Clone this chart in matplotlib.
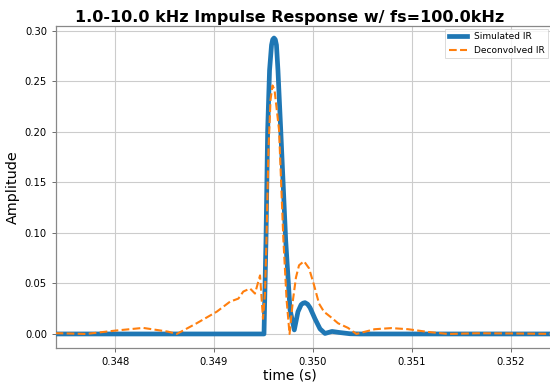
import matplotlib
matplotlib.use("Agg")
import matplotlib.pyplot as plt

# Simulated impulse response (time in s, amplitude)
sim_t = [0.34740, 0.349505, 0.349525, 0.349542, 0.349561, 0.349581, 0.349593,
         0.349606, 0.349619, 0.349631, 0.349646, 0.349674, 0.349724, 0.349768,
         0.349811, 0.349848, 0.349880, 0.349900, 0.349919, 0.349945, 0.349970,
         0.350020, 0.350071, 0.350121, 0.350192, 0.350263, 0.350374, 0.350475,
         0.35250]
sim_v = [0.0, 0.0, 0.093, 0.202, 0.261, 0.286, 0.2915,
         0.293, 0.2915, 0.286, 0.261, 0.202, 0.093, 0.024,
         0.004, 0.022, 0.029, 0.0305, 0.031, 0.0295, 0.026,
         0.015, 0.005, 0.0005, 0.0025, 0.0015, 0.0002, 0.0,
         0.0]

# Deconvolved impulse response
dec_t = [0.34740, 0.347434, 0.347707, 0.348, 0.348284, 0.348535, 0.348624,
         0.348825, 0.349027, 0.349162, 0.349246, 0.349296, 0.349364, 0.349414,
         0.349465, 0.349495, 0.349515, 0.349530, 0.349550, 0.349571, 0.349591,
         0.349611, 0.349657, 0.349701, 0.349733, 0.349763, 0.349798, 0.349828,
         0.349859, 0.349909, 0.349960, 0.350010, 0.350061, 0.350111, 0.350182,
         0.350253, 0.350354, 0.350438, 0.350623, 0.350791, 0.350960, 0.351162,
         0.351364, 0.351667, 0.352000, 0.35250]
dec_v = [0.0007, 0.0007, 0.0, 0.0033, 0.0060, 0.0023, 0.0,
         0.0106, 0.0220, 0.0320, 0.0350, 0.0420, 0.0450, 0.0400,
         0.0580, 0.0150, 0.0400, 0.0930, 0.1820, 0.2320, 0.2460,
         0.2420, 0.2020, 0.0930, 0.0340, 0.0, 0.0340, 0.0560,
         0.0680, 0.0720, 0.0650, 0.0485, 0.0300, 0.0220, 0.0165,
         0.0106, 0.0060, 0.0, 0.0047, 0.0058, 0.0047, 0.0020,
         0.0, 0.0007, 0.0005, 0.0]

x_ticks = [0.348, 0.349, 0.350, 0.351, 0.352]
y_ticks = [0.00, 0.05, 0.10, 0.15, 0.20, 0.25, 0.30]

fig = plt.figure(figsize=(5.5, 3.84), dpi=100)
ax = fig.add_axes([56 / 550, 36 / 384, 495 / 550, 322 / 384])

ax.plot(sim_t, sim_v, color="#1f77b4", lw=3.4, label="Simulated IR", zorder=3)
ax.plot(dec_t, dec_v, color="#ff7f0e", lw=1.5, ls="--", label="Deconvolved IR", zorder=4)

ax.set_xlim(0.347404, 0.352404)
ax.set_ylim(-0.0139, 0.3049)
ax.set_xticks(x_ticks)
ax.set_xticklabels([f"{v:.3f}" for v in x_ticks])
ax.set_yticks(y_ticks)
ax.set_yticklabels([f"{v:.2f}" for v in y_ticks])
ax.tick_params(labelsize=7.2, length=3, width=0.6, color="#555555")

ax.grid(True, color="#cccccc", lw=0.8)
ax.set_axisbelow(True)
for s in ax.spines.values():
    s.set_color("#888888")
    s.set_linewidth(0.9)

ax.set_xlabel("time (s)", fontsize=10)
ax.set_ylabel("Amplitude", fontsize=10.4)
ax.xaxis.set_label_coords(0.4727, -0.065)
ax.yaxis.set_label_coords(-0.072, 0.5)
ax.set_title("1.0-10.0 kHz Impulse Response w/ fs=100.0kHz", fontsize=11.5,
             fontweight="bold", x=0.4727, pad=3)

leg = ax.legend(loc="upper right", fontsize=6.5, frameon=True, fancybox=False,
                edgecolor="#cccccc", borderaxespad=0.3)
leg.get_frame().set_linewidth(0.6)

fig.savefig("out.png", dpi=100)
